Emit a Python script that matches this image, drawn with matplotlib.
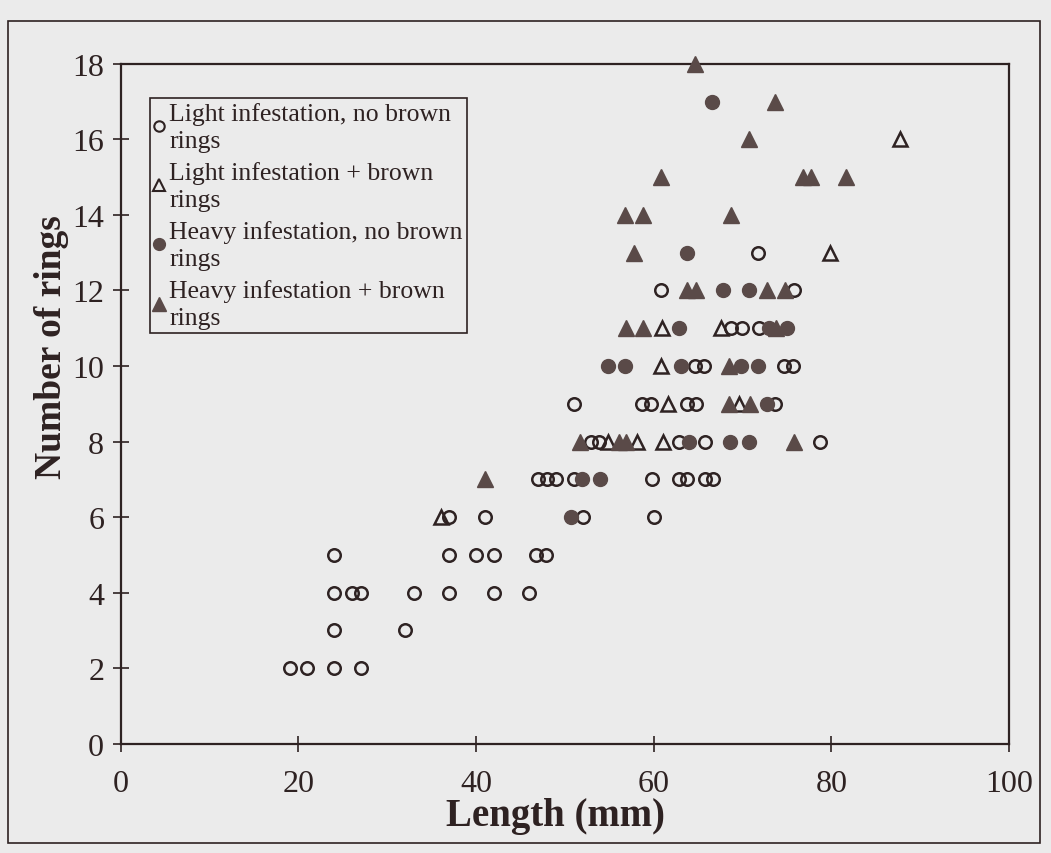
import matplotlib
matplotlib.use("Agg")
import matplotlib.pyplot as plt
from matplotlib.lines import Line2D
from matplotlib.patches import Rectangle

# ---- data: (length mm, number of rings) ----
light_no_x = [19, 21, 24, 27, 24, 32, 24, 26, 27, 33, 37, 42, 46,
              24, 37, 40, 42, 46.7, 47.9, 37, 41, 52, 60,
              47, 48, 49, 51, 59.8, 62.8, 63.7, 65.8, 66.7,
              52.9, 53.8, 62.8, 65.8, 78.7,
              51, 58.7, 59.7, 63.8, 64.8, 73.7,
              64.6, 65.7, 74.7, 75.7,
              68.7, 69.9, 71.8, 60.8, 75.8, 71.7]
light_no_y = [2, 2, 2, 2, 3, 3, 4, 4, 4, 4, 4, 4, 4,
              5, 5, 5, 5, 5, 5, 6, 6, 6, 6,
              7, 7, 7, 7, 7, 7, 7, 7, 7,
              8, 8, 8, 8, 8,
              9, 9, 9, 9, 9, 9,
              10, 10, 10, 10,
              11, 11, 11, 12, 12, 13]

light_br_x = [36, 54.8, 58.1, 61.0, 61.6, 69.6, 60.8, 60.9, 67.6, 79.8, 87.7]
light_br_y = [6, 8, 8, 8, 9, 9, 10, 11, 11, 13, 16]

heavy_no_x = [50.7, 51.9, 53.9, 64.0, 68.6, 70.7, 72.8,
              54.8, 56.8, 63.1, 69.8, 71.7,
              62.8, 73.0, 75.0, 67.8, 70.7, 63.7, 66.6]
heavy_no_y = [6, 7, 7, 8, 8, 8, 9,
              10, 10, 10, 10, 10,
              11, 11, 11, 12, 12, 13, 17]

heavy_br_x = [41, 51.7, 56.1, 56.9, 75.8, 68.5, 70.8, 68.5,
              56.9, 58.8, 73.8, 63.7, 64.8, 72.8, 74.8,
              57.8, 56.8, 58.8, 68.7, 60.8, 76.8, 77.7, 81.7,
              70.7, 73.7, 64.7]
heavy_br_y = [7, 8, 8, 8, 8, 9, 9, 10,
              11, 11, 11, 12, 12, 12, 12,
              13, 14, 14, 14, 15, 15, 15, 15,
              16, 17, 18]

labels = ["Light infestation, no brown\nrings",
          "Light infestation + brown\nrings",
          "Heavy infestation, no brown\nrings",
          "Heavy infestation + brown\nrings"]

x_ticks = [0, 20, 40, 60, 80, 100]
y_ticks = [0, 2, 4, 6, 8, 10, 12, 14, 16, 18]

# ---- style ----
bg = "#ebebeb"
ink = "#2e2222"
fill = "#5a4a48"
plt.rcParams['font.family'] = ['Liberation Serif', 'DejaVu Serif']

fig = plt.figure(figsize=(10.51, 8.54), dpi=100, facecolor=bg)
ax = fig.add_axes([0.115, 0.128, 0.845, 0.796], facecolor=bg)

ms = 9
kw = dict(linestyle='none', clip_on=False, zorder=3)
ax.plot(light_no_x, light_no_y, marker='o', ms=ms, mfc='none', mec=ink, mew=1.8, **kw)
ax.plot(light_br_x, light_br_y, marker='^', ms=ms + 1, mfc='none', mec=ink, mew=1.8, **kw)
ax.plot(heavy_no_x, heavy_no_y, marker='o', ms=ms + 1, mfc=fill, mec=fill, mew=1, **kw)
ax.plot(heavy_br_x, heavy_br_y, marker='^', ms=ms + 2, mfc=fill, mec=fill, mew=1, **kw)

ax.set_xlim(0, 100)
ax.set_ylim(0, 18)
ax.set_xticks(x_ticks)
ax.set_yticks(y_ticks)
ax.tick_params(direction='inout', length=12, width=1.2, colors=ink,
               labelsize=23, pad=6)
ax.tick_params(axis='x', pad=12)
for s in ax.spines.values():
    s.set_linewidth(1.6)
    s.set_color(ink)

ax.set_xlabel("Length (mm)", fontsize=28, fontweight='bold', color=ink)
ax.xaxis.set_label_coords(0.489, -0.078)
ax.set_ylabel("Number of rings", fontsize=27, fontweight='bold', color=ink)
ax.yaxis.set_label_coords(-0.058, 0.585)

handles = [
    Line2D([], [], marker='o', ms=7.5, mfc='none', mec=ink, mew=1.5, linestyle='none'),
    Line2D([], [], marker='^', ms=8.5, mfc='none', mec=ink, mew=1.5, linestyle='none'),
    Line2D([], [], marker='o', ms=8.5, mfc=fill, mec=fill, linestyle='none'),
    Line2D([], [], marker='^', ms=9.5, mfc=fill, mec=fill, linestyle='none'),
]
leg = ax.legend(handles, labels, loc='upper left', bbox_to_anchor=(0.033, 0.95),
                fontsize=18.5, frameon=True, fancybox=False, edgecolor=ink,
                facecolor=bg, framealpha=1, handlelength=0.4, handletextpad=0.2,
                borderpad=0.15, labelspacing=0.35, borderaxespad=0)
leg.get_frame().set_linewidth(1.2)
for t in leg.get_texts():
    t.set_color(ink)
    t.set_linespacing(1.3)

fig.patches.append(Rectangle((0.008, 0.012), 0.982, 0.962, transform=fig.transFigure,
                             fill=False, edgecolor=ink, linewidth=1.2))

fig.savefig("out.png", dpi=100, facecolor=bg)
